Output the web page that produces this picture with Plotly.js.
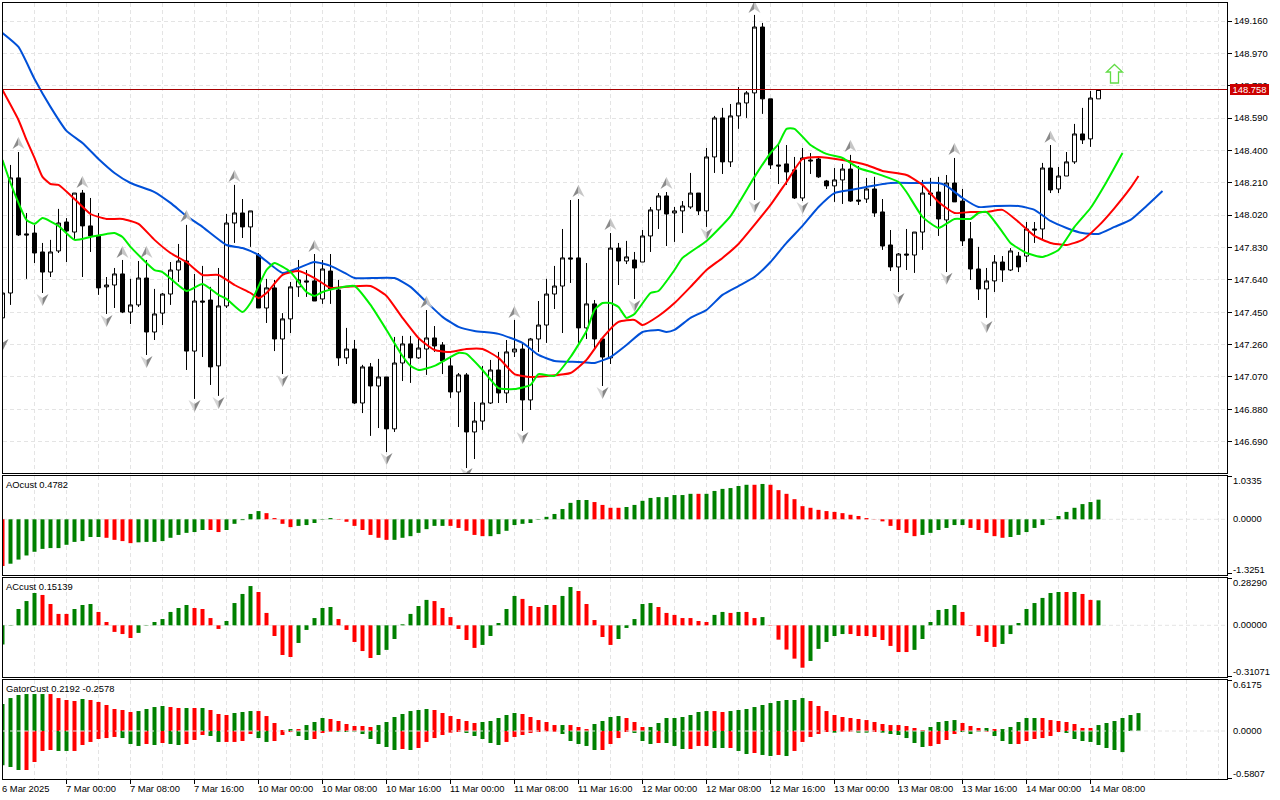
<!DOCTYPE html>
<html><head><meta charset="utf-8">
<script src="https://cdn.plot.ly/plotly-3.0.1.min.js"></script>
<style>html,body{margin:0;padding:0;background:#fff;overflow:hidden}#c{width:1280px;height:800px}</style>
</head><body><div id="c"></div>
<script>
const opens=[147.417,147.563,148.239,147.910,147.915,147.804,147.686,147.810,147.980,147.921,148.150,147.957,147.898,147.599,147.610,147.675,147.451,147.493,147.651,147.334,147.445,147.557,147.698,147.751,147.222,147.516,147.522,147.135,147.487,147.974,148.033,147.951,147.786,147.475,147.593,147.293,147.411,147.599,147.634,147.634,147.528,147.692,147.581,147.182,147.234,146.917,147.129,147.017,147.070,146.765,147.152,147.264,147.182,147.234,147.299,147.258,147.135,146.982,147.082,146.747,146.811,146.917,147.111,146.976,147.217,147.234,146.935,147.293,147.375,147.557,147.604,147.769,147.769,147.358,147.499,147.293,147.182,147.827,147.751,147.757,147.745,147.898,148.051,148.133,148.033,148.045,148.068,148.150,148.045,148.362,148.591,148.333,148.603,148.679,148.738,149.125,148.703,148.315,148.321,148.286,148.121,148.344,148.350,148.221,148.192,148.227,148.291,148.109,148.115,148.174,148.039,147.845,147.716,147.792,147.786,147.921,148.150,148.156,147.992,148.209,148.103,147.881,147.704,147.587,147.634,147.745,147.698,147.780,147.780,147.939,147.939,148.297,148.174,148.250,148.333,148.497,148.468,148.703];
const highs=[147.563,148.315,148.391,148.033,147.963,147.857,147.875,148.057,148.003,148.150,148.168,148.121,148.033,147.657,147.710,147.757,147.646,147.751,147.757,147.587,147.563,147.745,147.851,147.963,147.675,147.722,147.599,147.710,148.027,148.198,148.115,148.045,147.798,147.646,147.640,147.445,147.628,147.757,147.698,147.792,147.757,147.792,147.640,147.358,147.287,147.141,147.152,147.176,147.070,147.305,147.311,147.311,147.299,147.463,147.369,147.275,147.187,147.093,147.093,146.923,147.135,147.170,147.217,147.287,147.405,147.269,147.299,147.516,147.646,147.722,147.939,148.109,148.115,147.739,147.522,147.293,147.915,147.857,147.869,147.804,147.933,148.068,148.150,148.156,148.068,148.103,148.268,148.150,148.415,148.603,148.650,148.673,148.773,148.749,149.196,149.149,148.703,148.432,148.432,148.362,148.415,148.385,148.356,148.227,148.297,148.321,148.374,148.309,148.239,148.245,148.115,147.933,147.798,147.939,147.921,148.227,148.239,148.245,148.256,148.356,148.174,147.980,147.834,147.710,147.786,147.780,147.827,147.804,147.980,147.980,148.327,148.432,148.303,148.391,148.556,148.650,148.749,148.758];
const lows=[147.417,147.493,147.898,147.646,147.739,147.563,147.657,147.798,147.745,147.881,147.657,147.804,147.552,147.440,147.475,147.445,147.381,147.481,147.199,147.287,147.375,147.493,147.628,147.111,146.941,147.187,147.023,146.959,147.475,147.857,147.886,147.834,147.475,147.387,147.222,147.087,147.328,147.540,147.540,147.516,147.499,147.499,147.135,147.146,146.911,146.858,146.724,146.770,146.629,146.747,147.046,147.035,147.176,147.082,147.217,147.087,146.947,146.776,146.535,146.588,146.759,146.911,146.917,146.917,147.187,146.753,146.876,147.217,147.270,147.469,147.328,147.622,147.270,147.293,147.234,147.017,147.146,147.610,147.733,147.528,147.745,147.804,147.939,147.839,147.863,147.915,148.057,148.021,147.951,148.268,148.262,148.303,148.527,148.591,148.109,148.615,148.291,148.203,148.198,148.115,148.103,148.262,148.239,148.174,148.098,148.086,148.098,148.080,148.092,148.010,147.816,147.692,147.569,147.698,147.681,147.816,148.074,147.898,147.686,148.098,147.839,147.640,147.522,147.417,147.569,147.628,147.692,147.686,147.745,147.857,147.875,148.150,148.150,148.250,148.321,148.438,148.421,148.703];
const closes=[147.563,148.239,147.904,147.904,147.798,147.686,147.804,147.974,147.927,148.150,147.957,147.898,147.593,147.610,147.675,147.451,147.493,147.651,147.334,147.440,147.557,147.698,147.751,147.222,147.516,147.510,147.129,147.487,147.974,148.033,147.951,148.045,147.475,147.593,147.293,147.411,147.599,147.640,147.628,147.516,147.704,147.587,147.182,147.234,146.917,147.129,147.017,147.070,146.765,147.152,147.264,147.182,147.240,147.299,147.252,147.164,146.982,147.082,146.747,146.811,146.917,147.111,146.976,147.217,147.234,146.935,147.293,147.375,147.557,147.604,147.769,147.763,147.358,147.499,147.293,147.187,147.827,147.751,147.775,147.710,147.898,148.051,148.133,148.027,148.045,148.074,148.150,148.045,148.362,148.591,148.333,148.603,148.679,148.738,149.125,148.703,148.315,148.309,148.274,148.121,148.356,148.339,148.245,148.192,148.227,148.291,148.103,148.103,148.174,148.033,147.839,147.716,147.792,147.786,147.921,148.150,148.144,147.998,148.209,148.098,147.869,147.704,147.587,147.634,147.745,147.698,147.810,147.716,147.939,147.933,148.297,148.168,148.250,148.333,148.497,148.462,148.708,148.758];

const blueBars=[0,2,4,6,8,10,12,14,16,19,21,23,25,28,30,32,35,37,39,41,43,44,49,51,53,55,57,59,62,65,67,69,72,74,76,78,80,82,83,84,86,88,90,92,94,96,98,100,102,104,106,108,111,114,117,118,120,122,124,127,129,131,133,135,137,139,141,143,145];
const blueVals=[149.090,149.008,148.820,148.656,148.515,148.444,148.350,148.268,148.209,148.156,148.092,148.015,147.951,147.845,147.827,147.786,147.681,147.710,147.745,147.722,147.675,147.651,147.651,147.599,147.510,147.423,147.364,147.340,147.323,147.270,147.199,147.164,147.158,147.152,147.187,147.258,147.334,147.346,147.334,147.346,147.417,147.463,147.552,147.604,147.657,147.745,147.857,147.957,148.068,148.150,148.168,148.186,148.209,148.209,148.209,148.192,148.121,148.068,148.074,148.074,148.051,147.986,147.945,147.915,147.910,147.951,147.992,148.074,148.162];
const redBars=[0,2,3,4,5,6,7,9,11,13,15,17,19,21,23,25,27,29,31,32,33,35,37,39,41,43,46,48,50,52,54,56,58,60,62,64,66,68,71,73,75,77,79,80,82,84,86,88,90,92,94,96,98,100,102,105,108,110,113,115,117,119,121,123,125,127,129,131,133,135,137,139,141,142];
const redVals=[148.755,148.579,148.462,148.356,148.245,148.203,148.198,148.115,148.027,147.998,147.998,147.969,147.875,147.798,147.745,147.669,147.669,147.610,147.563,147.534,147.563,147.669,147.692,147.651,147.593,147.599,147.604,147.546,147.417,147.299,147.228,147.217,147.234,147.234,147.182,147.087,147.070,147.076,147.093,147.170,147.299,147.393,147.405,147.375,147.428,147.504,147.599,147.698,147.769,147.851,147.963,148.080,148.215,148.350,148.362,148.344,148.315,148.280,148.256,148.198,148.098,148.033,148.039,148.039,148.051,147.980,147.898,147.857,147.845,147.875,147.957,148.062,148.180,148.250];
const greenBars=[0,1,2,3,4,5,7,9,11,13,14,15,16,19,20,23,25,27,28,30,31,33,34,36,38,39,40,42,44,46,48,50,51,52,54,57,58,60,62,64,66,67,69,71,73,74,75,76,77,78,79,81,82,84,85,88,91,94,96,97,98,99,101,103,105,107,109,112,113,115,117,119,121,122,123,125,126,128,130,132,134,136,138,140];
const greenVals=[148.344,148.209,148.092,147.992,147.969,148.003,147.957,147.875,147.892,147.910,147.915,147.892,147.834,147.698,147.686,147.575,147.616,147.552,147.528,147.451,147.504,147.698,147.739,147.686,147.569,147.546,147.569,147.593,147.604,147.493,147.346,147.193,147.135,147.111,147.135,147.211,147.205,147.111,147.005,146.999,147.023,147.087,147.076,147.187,147.340,147.463,147.504,147.504,147.481,147.417,147.440,147.563,147.575,147.698,147.769,147.869,148.015,148.245,148.385,148.438,148.527,148.527,148.432,148.380,148.356,148.297,148.268,148.215,148.156,148.010,147.945,147.998,147.998,148.033,148.039,147.921,147.857,147.798,147.775,147.816,147.951,148.062,148.215,148.385];

const fractalUpBars=[2,10,15,18,23,29,39,53,64,72,76,83,94,106,119,131];
const fractalUpVals=[148.444,148.215,147.804,147.804,148.015,148.250,147.839,147.510,147.451,148.162,147.968,148.209,149.243,148.426,148.409,148.480];
const fractalDownBars=[0,5,13,18,24,27,35,48,58,65,75,79,88,94,100,112,118,123];
const fractalDownVals=[147.258,147.522,147.399,147.158,146.900,146.917,147.046,146.588,146.500,146.712,146.976,147.487,147.910,148.068,148.062,147.528,147.646,147.364];

const aoVals=[-1.135,-1.08,-0.98,-0.88,-0.79,-0.72,-0.70,-0.70,-0.62,-0.55,-0.53,-0.43,-0.43,-0.45,-0.50,-0.53,-0.58,-0.56,-0.55,-0.55,-0.53,-0.45,-0.38,-0.33,-0.31,-0.26,-0.26,-0.31,-0.26,-0.11,-0.02,0.13,0.20,0.15,0.03,-0.11,-0.19,-0.16,-0.14,-0.09,-0.01,0.03,-0.01,-0.06,-0.16,-0.26,-0.38,-0.45,-0.50,-0.50,-0.45,-0.41,-0.33,-0.24,-0.16,-0.16,-0.16,-0.21,-0.28,-0.38,-0.41,-0.41,-0.36,-0.28,-0.14,-0.11,-0.09,-0.01,0.06,0.13,0.25,0.40,0.47,0.47,0.42,0.35,0.28,0.28,0.30,0.35,0.45,0.52,0.54,0.54,0.59,0.59,0.62,0.62,0.62,0.69,0.74,0.76,0.81,0.84,0.84,0.86,0.84,0.71,0.62,0.49,0.32,0.28,0.23,0.20,0.18,0.15,0.11,0.08,0.03,0.005,-0.05,-0.16,-0.26,-0.33,-0.41,-0.38,-0.33,-0.26,-0.21,-0.14,-0.14,-0.21,-0.26,-0.33,-0.41,-0.45,-0.43,-0.38,-0.31,-0.21,-0.14,-0.01,0.08,0.18,0.28,0.37,0.42,0.4782];
const aoColors="rggggggggggggrrrrgggggggggrrgggggrrrrgggggrrrrrrrgggggggrrrrrgggggggggggggrrrrgggggggggrggggggrgrrrrrrrrrrrrrrrrrrrggggggrrrrrgggggggggggg";
const acVals=[-0.117,0.002,0.099,0.147,0.196,0.184,0.129,0.069,0.069,0.099,0.123,0.129,0.081,0.02,-0.04,-0.053,-0.077,-0.046,-0.002,0.02,0.038,0.081,0.105,0.123,0.105,0.099,0.044,-0.022,0.026,0.135,0.19,0.238,0.202,0.075,-0.065,-0.18,-0.192,-0.107,-0.028,0.044,0.105,0.111,0.038,-0.028,-0.101,-0.156,-0.198,-0.18,-0.149,-0.083,0.006,0.069,0.117,0.154,0.147,0.105,0.05,-0.022,-0.089,-0.137,-0.119,-0.065,0.014,0.099,0.178,0.16,0.117,0.111,0.123,0.123,0.178,0.232,0.208,0.129,0.032,-0.071,-0.119,-0.083,-0.016,0.038,0.129,0.135,0.111,0.075,0.063,0.044,0.044,0.026,0.02,0.063,0.081,0.075,0.081,0.081,0.044,0.05,-0.002,-0.087,-0.147,-0.202,-0.257,-0.216,-0.143,-0.101,-0.065,-0.053,-0.053,-0.065,-0.065,-0.071,-0.089,-0.125,-0.162,-0.162,-0.149,-0.083,0.02,0.093,0.099,0.123,0.081,-0.002,-0.065,-0.101,-0.131,-0.113,-0.053,0.014,0.099,0.135,0.166,0.196,0.202,0.202,0.202,0.19,0.154,0.15139];
const acColors="gggggrrrrgggrrrrrgggggggrrrrggggrrrrrgggggrrrrrgggggggrrrrrrgggggrrrgrggrrrrrgggggrrrrrrrggrgrrgrrrrrgggggrrrrrrrrggggggrrrrrggggggggrgrrg";
const gatorUpVals=[0.33,0.403,0.44,0.452,0.452,0.452,0.452,0.403,0.379,0.367,0.391,0.379,0.355,0.318,0.269,0.257,0.232,0.244,0.269,0.293,0.306,0.293,0.281,0.281,0.281,0.281,0.257,0.208,0.196,0.22,0.232,0.244,0.244,0.183,0.098,0.012,0.024,0.024,0.073,0.11,0.159,0.147,0.122,0.086,0.061,0.061,0.049,0.073,0.11,0.171,0.208,0.244,0.257,0.269,0.257,0.22,0.183,0.147,0.122,0.098,0.11,0.122,0.159,0.196,0.22,0.208,0.171,0.134,0.11,0.073,0.073,0.073,0.049,0.024,0.086,0.122,0.171,0.183,0.159,0.11,0.049,0.049,0.098,0.159,0.159,0.171,0.196,0.232,0.244,0.244,0.232,0.244,0.257,0.269,0.293,0.318,0.342,0.367,0.379,0.379,0.403,0.367,0.306,0.244,0.196,0.171,0.159,0.147,0.134,0.11,0.086,0.073,0.073,0.061,0.037,0.012,0.049,0.11,0.122,0.134,0.098,0.061,0.037,0.037,0.024,0.024,0.049,0.11,0.159,0.159,0.159,0.134,0.122,0.11,0.086,0.037,0.037,0.073,0.098,0.122,0.159,0.196,0.2192];
const gatorUpColors="ggggggrrrrgrrrrrrggggrrgrgrrrgggrrrrgrgggrrrrrrgggggggrrrrrrgggggrrrrrgrrrggggrrrggggggggrrggggggggggrrrrrrrrrrrrrrrggggrrrgrgggggrrrrrrrgggggg";
const gatorDownVals=[-0.42,-0.44,-0.477,-0.477,-0.379,-0.244,-0.232,-0.244,-0.244,-0.244,-0.171,-0.134,-0.098,-0.086,-0.073,-0.086,-0.159,-0.183,-0.159,-0.171,-0.147,-0.159,-0.171,-0.159,-0.11,-0.049,-0.061,-0.134,-0.134,-0.134,-0.122,-0.037,-0.086,-0.134,-0.122,-0.049,-0.012,-0.061,-0.11,-0.098,-0.024,-0.008,-0.008,-0.012,-0.008,-0.037,-0.098,-0.159,-0.196,-0.232,-0.22,-0.232,-0.208,-0.134,-0.086,-0.049,-0.02,-0.012,-0.024,-0.061,-0.098,-0.147,-0.171,-0.134,-0.073,-0.049,-0.024,-0.012,-0.004,-0.008,-0.037,-0.122,-0.159,-0.183,-0.232,-0.232,-0.159,-0.086,-0.012,-0.024,-0.122,-0.159,-0.147,-0.147,-0.183,-0.22,-0.22,-0.183,-0.183,-0.208,-0.208,-0.208,-0.244,-0.281,-0.269,-0.293,-0.306,-0.293,-0.306,-0.244,-0.134,-0.073,-0.037,-0.012,-0.02,-0.008,-0.008,-0.02,-0.02,-0.012,-0.02,-0.037,-0.049,-0.086,-0.147,-0.196,-0.183,-0.159,-0.11,-0.037,-0.012,-0.037,-0.008,-0.008,-0.061,-0.122,-0.159,-0.159,-0.122,-0.098,-0.086,-0.061,-0.012,-0.024,-0.098,-0.122,-0.134,-0.171,-0.208,-0.232,-0.2578];
const gatorDownColors="gggrrrrggrrrrrrgggrgrggrrrggrrrrggrrrggrrrggggggggrgrrrrrrgggggrrrrrrrgggggrrrrgggrgggrrrggrggrggrgrrrrrgrrggrggggggrrrrgggrgggrrrrrrgggggggg";

const timeBars=[0,8,16,24,32,40,48,56,64,72,80,88,96,104,112,120,128,136];
const timeLabels=["6 Mar 2025","7 Mar 00:00","7 Mar 08:00","7 Mar 16:00","10 Mar 00:00","10 Mar 08:00","10 Mar 16:00","11 Mar 00:00","11 Mar 08:00","11 Mar 16:00","12 Mar 00:00","12 Mar 08:00","12 Mar 16:00","13 Mar 00:00","13 Mar 08:00","13 Mar 16:00","14 Mar 00:00","14 Mar 08:00"];
const lastPrice=148.758, signalBar=139, signalPrice=148.852;
const aoLabels=["1.0335","0.0000","-1.3251"], acLabels=["0.28290","0.00000","-0.31071"], gatorLabels=["0.6175","0.0000","-0.5807"];

const W=1280,H=800,L=3,R=1227;
const FONT={family:'"Liberation Sans",Arial,sans-serif',size:9.4,color:'#000'};
const TICKFONT={family:'"Liberation Sans",Arial,sans-serif',size:9.4,color:'#000'};
const GRID='#e4e4e4';
const DASH='4px,3px';
const col=s=>s.split('').map(c=>c==='g'?'#008000':'#ff0000');
const idx=a=>a.map((_,i)=>i);
const dom=(t,b)=>[1-b/H,1-t/H];
const xr=[(L-2.5)/8,(R-2.5)/8];
const xbase={range:xr,domain:[L/W,R/W],showline:true,mirror:true,linecolor:'#000',linewidth:1,zeroline:false,
  tickmode:'linear',tick0:0,dtick:4,showgrid:true,gridcolor:GRID,griddash:DASH,gridwidth:1,ticks:'',showticklabels:false,fixedrange:true};
const ybase={side:'right',showline:true,mirror:true,linecolor:'#000',linewidth:1,zeroline:false,showgrid:false,
  showticklabels:false,ticks:'outside',ticklen:4,tickcolor:'#000',tickfont:TICKFONT,fixedrange:true,tickmode:'array'};
const smooth={shape:'spline',smoothing:0.5,width:2};

const traces=[
 {type:'candlestick',x:idx(opens),open:opens,high:highs,low:lows,close:closes,xaxis:'x',yaxis:'y',hoverinfo:'skip',whiskerwidth:0,
  increasing:{line:{color:'#000',width:1},fillcolor:'#fff'},decreasing:{line:{color:'#000',width:1},fillcolor:'#000'}},
 {type:'scatter',mode:'lines',x:blueBars,y:blueVals,line:Object.assign({color:'#0050d8'},smooth),xaxis:'x',yaxis:'y',hoverinfo:'skip'},
 {type:'scatter',mode:'lines',x:redBars,y:redVals,line:Object.assign({color:'#ff0000'},smooth),xaxis:'x',yaxis:'y',hoverinfo:'skip'},
 {type:'scatter',mode:'lines',x:greenBars,y:greenVals,line:Object.assign({color:'#00f000'},smooth),xaxis:'x',yaxis:'y',hoverinfo:'skip'},
 {type:'bar',x:idx(aoVals),y:aoVals,width:0.5,marker:{color:col(aoColors),line:{width:0}},xaxis:'x2',yaxis:'y2',hoverinfo:'skip'},
 {type:'bar',x:idx(acVals),y:acVals,width:0.5,marker:{color:col(acColors),line:{width:0}},xaxis:'x3',yaxis:'y3',hoverinfo:'skip'},
 {type:'bar',x:idx(gatorUpVals),y:gatorUpVals,width:0.5,marker:{color:col(gatorUpColors),line:{width:0}},xaxis:'x4',yaxis:'y4',hoverinfo:'skip'},
 {type:'bar',x:idx(gatorDownVals),y:gatorDownVals,width:0.5,marker:{color:col(gatorDownColors),line:{width:0}},xaxis:'x4',yaxis:'y4',hoverinfo:'skip'}
];

const shapes=[];
function arrow(i,p,up){
  const s=up?1:-1;
  const leftCol=up?'#8a8a8a':'#d4d4d4', rightCol=up?'#c6c6c6':'#858585';
  [[-6,leftCol],[6,rightCol]].forEach(([dx,c])=>{
    shapes.push({type:'path',xref:'x',yref:'y',xsizemode:'pixel',ysizemode:'pixel',xanchor:i,yanchor:p,
      path:`M0,${6*s}L${dx},${-6*s}L0,${-2*s}Z`,fillcolor:c,line:{width:0},layer:'above'});
  });
}
fractalUpBars.forEach((b,k)=>arrow(b,fractalUpVals[k],true));
fractalDownBars.forEach((b,k)=>arrow(b,fractalDownVals[k],false));
shapes.push({type:'line',xref:'x domain',yref:'y',x0:0,x1:1,y0:lastPrice,y1:lastPrice,line:{color:'#a80000',width:1},layer:'above'});
shapes.push({type:'path',xref:'x',yref:'y',xsizemode:'pixel',ysizemode:'pixel',xanchor:signalBar,yanchor:signalPrice,
  path:'M0,9L8,1.5H4V-9.5H-4V1.5H-8Z',fillcolor:'rgba(255,255,255,0)',line:{color:'#62dc46',width:1.3},layer:'above'});
[['x2 domain','y2','below'],['x3 domain','y3','below'],['x4 domain','y4','above']].forEach(([xr2,yr,ly])=>{
  shapes.push({type:'line',xref:xr2,yref:yr,x0:0,x1:1,y0:0,y1:0,line:{color:GRID,width:1,dash:DASH},layer:ly});
});

const annotations=[];
const pyAnn=(x,y,text,extra)=>annotations.push(Object.assign({xref:'paper',yref:'paper',x:x/W,y:1-y/H,text,showarrow:false,xanchor:'left',yanchor:'middle',font:FONT,borderpad:0},extra||{}));
timeBars.forEach((b,k)=>annotations.push({xref:'x4',yref:'paper',x:Math.max(b,xr[0]+0.01),y:1-788/H,text:timeLabels[k],showarrow:false,xanchor:'left',yanchor:'middle',font:FONT,borderpad:0,xshift:-2,captureevents:false}));
pyAnn(5,484,'AOcust 0.4782');pyAnn(5,586,'ACcust 0.15139');pyAnn(5,688,'GatorCust 0.2192 -0.2578');
[[480.5,518.5,569.7,aoLabels],[582.7,624.7,671.3,acLabels],[684.3,730.7,773.7,gatorLabels]].forEach(([a,b,c,l])=>{
  pyAnn(1232,a,l[0]);pyAnn(1232,b,l[1]);pyAnn(1232,c,l[2]);
});
annotations.push({xref:'paper',yref:'y',x:1230/W,y:lastPrice,text:lastPrice.toFixed(3),showarrow:false,xanchor:'left',yanchor:'middle',
  width:39,height:11,bgcolor:'#cc0000',borderpad:0,borderwidth:0,align:'center',font:Object.assign({},FONT,{color:'#fff'})});

const layout={width:W,height:H,margin:{l:0,r:0,t:0,b:0,pad:0},paper_bgcolor:'#fff',plot_bgcolor:'#fff',showlegend:false,autosize:false,
  barmode:'overlay',boxgap:0.5,boxgroupgap:0,dragmode:false,font:FONT,hovermode:false,
  xaxis:Object.assign({},xbase,{anchor:'y',rangeslider:{visible:false}}),
  xaxis2:Object.assign({},xbase,{anchor:'y2'}),
  xaxis3:Object.assign({},xbase,{anchor:'y3'}),
  xaxis4:Object.assign({},xbase,{anchor:'y4',tickmode:'array',tickvals:timeBars,ticktext:timeBars.map(()=>''),ticks:'outside',ticklen:4,tickcolor:'#000',
    minor:{tickmode:'linear',tick0:0,dtick:4,showgrid:true,gridcolor:GRID,griddash:DASH,gridwidth:1,ticks:''}}),
  yaxis:Object.assign({},ybase,{anchor:'x',domain:dom(3,473),range:[146.506,149.266],tickmode:'linear',tick0:146.69,dtick:0.19,tickformat:'.3f',showticklabels:true,showgrid:true,gridcolor:GRID,griddash:DASH,gridwidth:1}),
  yaxis2:Object.assign({},ybase,{anchor:'x2',domain:dom(476,575),range:[-1.355,1.0535],tickvals:[1.0335,-1.3251]}),
  yaxis3:Object.assign({},ybase,{anchor:'x3',domain:dom(578,677),range:[-0.3133,0.2867],tickvals:[0.2829,-0.31071]}),
  yaxis4:Object.assign({},ybase,{anchor:'x4',domain:dom(680,779),range:[-0.5868,0.6235],tickvals:[0.6175,-0.5807]}),
  shapes,annotations};
Plotly.newPlot('c',traces,layout,{staticPlot:true,displayModeBar:false,responsive:false});
</script></body></html>
